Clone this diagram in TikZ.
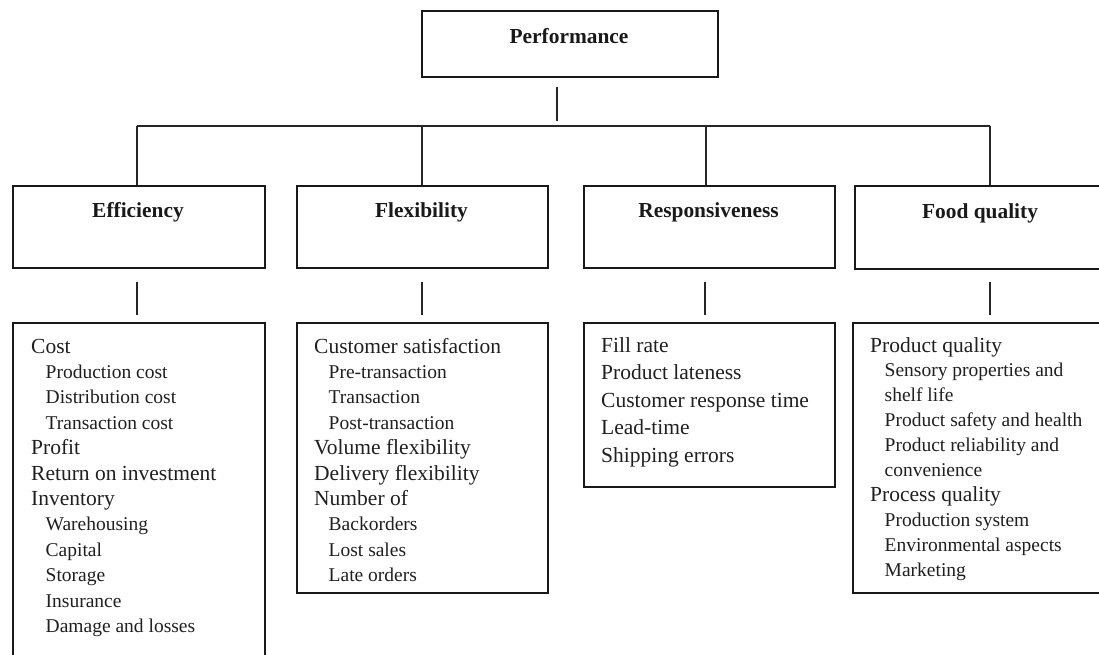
\documentclass[tikz,border=0pt]{standalone}
\usepackage{fontspec}
\setmainfont{Liberation Serif}
\begin{document}
\begin{tikzpicture}[x=1pt,y=-1pt,
  box/.style={draw=black!90, line width=1.8pt, rectangle, inner sep=0pt, anchor=north west},
  link/.style={draw=black!85, line width=1.2pt},
  heading/.style={font=\bfseries\fontsize{21.4}{25}\selectfont, anchor=base, inner sep=0pt, text=black!90},
  mainitem/.style={font=\fontsize{21.5}{25}\selectfont, anchor=base west, inner sep=0pt, text=black!88},
  subitem/.style={font=\fontsize{19.5}{24}\selectfont, anchor=base west, inner sep=0pt, xshift=14.5pt, text=black!88}]
\useasboundingbox (0,0) rectangle (1099,654);
\clip (0,0) rectangle (1099,654);

% top level
\node[box, minimum width=296pt, minimum height=66pt] (perf) at (421,10) {};
\node[heading] (perfT) at (569,43) {Performance};

% second level
\node[box, minimum width=252pt, minimum height=82pt] (eff)  at (12,185)  {};
\node[box, minimum width=251pt, minimum height=82pt] (flex) at (296,185) {};
\node[box, minimum width=251pt, minimum height=82pt] (resp) at (583,185) {};
\node[box, minimum width=252pt, minimum height=83pt] (food) at (854,185) {};
\node[heading] (effT)  at (138,217)   {Efficiency};
\node[heading] (flexT) at (421.5,217) {Flexibility};
\node[heading] (respT) at (708.5,217) {Responsiveness};
\node[heading] (foodT) at (980,218)   {Food quality};

% indicator lists
\node[box, minimum width=252pt, minimum height=360pt] (effd)  at (12,322)  {};
\node[box, minimum width=251pt, minimum height=270pt] (flexd) at (296,322) {};
\node[box, minimum width=251pt, minimum height=164pt] (respd) at (583,322) {};
\node[box, minimum width=254pt, minimum height=270pt] (foodd) at (852,322) {};

% connectors
\coordinate (trunkA) at (557,87);
\coordinate (trunkB) at (557,121);
\draw[link] (trunkA) -- (trunkB);
\coordinate (busEff)  at (137,126);
\coordinate (busFlex) at (422,126);
\coordinate (busResp) at (706,126);
\coordinate (busFood) at (990,126);
\draw[link] (busEff) -- (busFood);
\foreach \b/\n in {busEff/eff, busFlex/flex, busResp/resp, busFood/food}
  \draw[link] (\b) -- (\b |- \n.north);

\foreach \x/\n in {137/eff, 422/flex, 705/resp, 990/food} {
  \coordinate (\n StubA) at (\x,282);
  \coordinate (\n StubB) at (\x,315);
  \draw[link] (\n StubA) -- (\n StubB);
}

% list texts
\foreach \t/\s [count=\k from 0] in {Cost/mainitem, Production cost/subitem,
    Distribution cost/subitem, Transaction cost/subitem, Profit/mainitem,
    Return on investment/mainitem, Inventory/mainitem, Warehousing/subitem,
    Capital/subitem, Storage/subitem, Insurance/subitem, Damage and losses/subitem}
  \node[\s] (effL\k) at (31,{353+25.4*\k}) {\t};

\foreach \t/\s [count=\k from 0] in {Customer satisfaction/mainitem,
    Pre-transaction/subitem, Transaction/subitem, Post-transaction/subitem,
    Volume flexibility/mainitem, Delivery flexibility/mainitem, Number of/mainitem,
    Backorders/subitem, Lost sales/subitem, Late orders/subitem}
  \node[\s] (flexL\k) at (314,{353+25.4*\k}) {\t};

\foreach \t/\s [count=\k from 0] in {Fill rate/mainitem, Product lateness/mainitem,
    Customer response time/mainitem, Lead-time/mainitem, Shipping errors/mainitem}
  \node[\s] (respL\k) at (601,{352+27.5*\k}) {\t};

\foreach \t/\s [count=\k from 0] in {Product quality/mainitem,
    Sensory properties and/subitem, shelf life/subitem,
    Product safety and health/subitem, Product reliability and/subitem,
    convenience/subitem, Process quality/mainitem, Production system/subitem,
    Environmental aspects/subitem, Marketing/subitem}
  \node[\s] (foodL\k) at (870,{352+24.9*\k}) {\t};
\end{tikzpicture}
\end{document}
